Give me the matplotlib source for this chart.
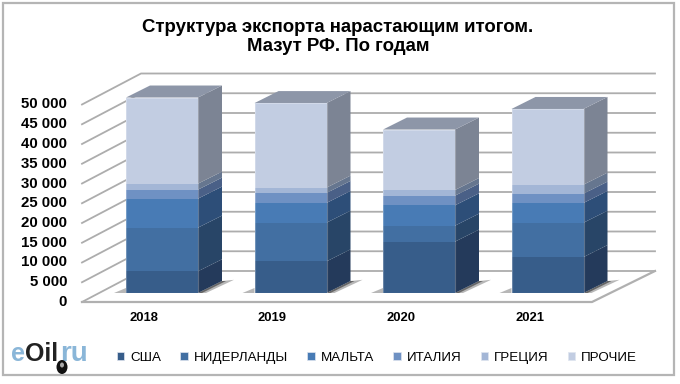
#!/usr/bin/env python3
import numpy as np
import matplotlib
matplotlib.use('Agg')
import matplotlib.pyplot as plt
from matplotlib.patches import Polygon, Rectangle, Ellipse

plt.rcParams['font.family'] = ['Liberation Sans', 'DejaVu Sans']

years = ['2018', '2019', '2020', '2021']
countries = ['США', 'НИДЕРЛАНДЫ', 'МАЛЬТА', 'ИТАЛИЯ', 'ГРЕЦИЯ', 'ПРОЧИЕ']
usa = [5500, 8000, 13000, 9100]
netherlands = [11050, 9800, 4050, 8700]
malta = [7340, 5000, 5150, 5000]
italy = [2280, 2530, 2450, 2360]
greece = [1520, 1350, 1430, 2280]
other = [21800, 21400, 15300, 19150]
series = [usa, netherlands, malta, italy, greece, other]
yticks = [0, 5000, 10000, 15000, 20000, 25000, 30000, 35000, 40000, 45000, 50000]

front_colors = ['#375d8a', '#426fa2', '#487bb5', '#6f91c3', '#a3b6d6', '#c2cde2']
side_colors = ['#243a5b', '#284567', '#2d4e78', '#4a6087', '#66768f', '#7c8494']
top_color = '#8d96a8'

# 1 px in data units, axes fill the whole figure
px_x = 1 / 128.5
px_y = 1 / 0.00395
bar_w = 72 * px_x
depth_x = 24 * px_x
depth_y = 12 * px_y

fig = plt.figure(figsize=(6.8, 3.84), dpi=100)
ax = fig.add_axes([0, 0, 1, 1])
ax.set_xlim(-162 * px_x, 518 * px_x)
ax.set_ylim(-91 * px_y, 293 * px_y)
ax.axis('off')


def pos(x, y):
	# pixel position in the picture -> data
	return (x - 162) * px_x, (293 - y) * px_y


# frame
x0, y0 = pos(3, 375)
x1, y1 = pos(673.5, 3)
ax.add_patch(Rectangle((x0, y0), x1 - x0, y1 - y0, fc='white', ec='#b5b5b5', lw=1.6, zorder=0))

# walls and floor
fl, _ = pos(82, 0)
bl, _ = pos(141, 0)
br, _ = pos(655, 0)
fr, _ = pos(592, 0)
front_off = -9 * px_y
back_off = 22 * px_y
for v in yticks:
	ax.plot([fl, bl, br], [v + front_off, v + back_off, v + back_off], color='#adadad', lw=1.3, zorder=1)
ax.plot([fl, fr, br], [front_off, front_off, back_off], color='#b0b0b0', lw=1.6, zorder=1)

for i, year in enumerate(years):
	left = i - bar_w / 2
	right = i + bar_w / 2
	# shadow on the floor
	pts_right = [(right, 0), (right + depth_x, depth_y), (right + 36 * px_x, depth_y * 1.1), (right + 8 * px_x, 0)]
	pts_left = [(left - 12 * px_x, 0), (left, 5 * px_y), (left, 0)]
	for pts in (pts_right, pts_left):
		ax.add_patch(Polygon(pts, fc='#888888', alpha=0.6, ec='none', zorder=2))
	ax.add_patch(Polygon([(right, 0), (right + depth_x, depth_y), (right + 28 * px_x, depth_y), (right + 4 * px_x, 0)],
		fc='#444444', alpha=0.7, ec='none', zorder=2))
	bottom = 0
	for s, vals in enumerate(series):
		v = vals[i]
		ax.bar(i, v, bar_w, bottom=bottom, color=front_colors[s], linewidth=0, zorder=4)
		ax.add_patch(Polygon([(right, bottom), (right + depth_x, bottom + depth_y),
			(right + depth_x, bottom + v + depth_y), (right, bottom + v)],
			fc=side_colors[s], ec='none', zorder=3))
		bottom += v
	ax.add_patch(Polygon([(left, bottom), (left + depth_x, bottom + depth_y),
		(right + depth_x, bottom + depth_y), (right, bottom)], fc=top_color, ec='none', zorder=3))
	# light rim around the front face
	ax.add_patch(Rectangle((left, 0), bar_w, bottom, fc='none', ec='white', lw=0.8, alpha=0.25, zorder=5))
	ax.text(i - 18 * px_x, pos(0, 318)[1], year, ha='center', va='center', fontsize=9.4, fontweight='bold', color='black')

for v in yticks:
	label = f'{v:,}'.replace(',', ' ')
	ax.text(pos(67, 0)[0], v + front_off, label, ha='right', va='center', fontsize=10.8, fontweight='bold', color='black')

tx, ty = pos(338, 37)
ax.text(tx, ty, 'Структура экспорта нарастающим итогом.\nМазут РФ. По годам', ha='center', va='center',
	fontsize=13.4, fontweight='bold', color='black', linespacing=1.18)

# legend
handles = [Rectangle((0, 0), 1, 1, fc=c, ec='#dfe5ef', lw=0.5) for c in front_colors]
leg = ax.legend(handles, countries, ncol=6, frameon=False, loc='center', fontsize=9.6,
	bbox_to_anchor=(377 / 680, 1 - 358 / 384), handlelength=0.55, handleheight=0.55,
	handletextpad=0.45, columnspacing=1.45, borderpad=0)

# logo
ly = pos(0, 354)[1]
ax.text(pos(11.5, 0)[0], ly, 'e', fontsize=18, color='#8ab6d8', fontweight='bold', va='center', ha='left')
ax.text(pos(25, 0)[0], ly, 'Oil', fontsize=18, color='#222222', fontweight='bold', va='center', ha='left')
ax.text(pos(60, 0)[0], ly, 'ru', fontsize=20, color='#8ab6d8', fontweight='bold', va='center', ha='left')
ax.add_patch(Ellipse(pos(62, 367), 11 * px_x, 14 * px_y, fc='#111111', ec='none', zorder=6))
ax.add_patch(Ellipse(pos(62, 365), 4 * px_x, 5 * px_y, fc='#aaaaaa', ec='none', zorder=7))

fig.savefig('out.png', dpi=100)
